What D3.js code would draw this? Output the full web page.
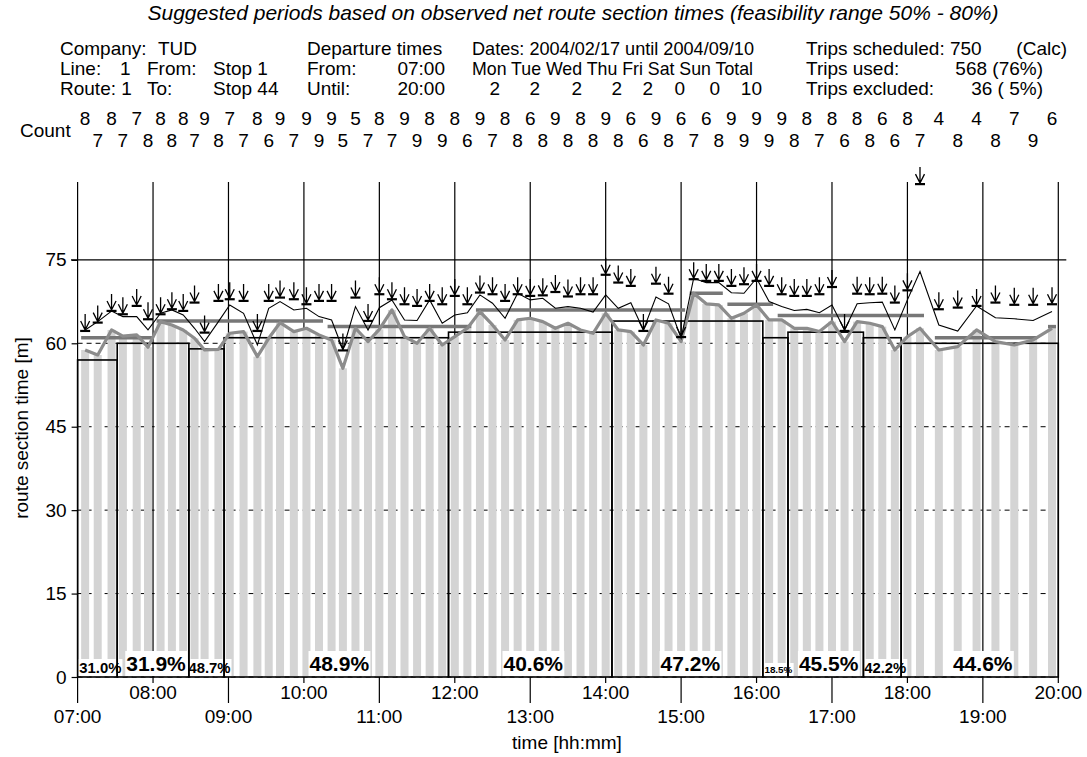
<!DOCTYPE html>
<html>
<head>
<meta charset="utf-8">
<script src="https://cdn.jsdelivr.net/npm/d3@7"></script>
<style>
  body { margin: 0; background: #fff; }
  svg { display: block; font-family: "Liberation Sans", Arial, Helvetica, sans-serif; }
</style>
</head>
<body>
<svg id="chart" width="1087" height="757"></svg>
<script>
// ---- trip departures (weekday timetable) ----
const departureTimes = [
  "07:06","07:16","07:27","07:36","07:47","07:56","08:06","08:15","08:24","08:33",
  "08:41","08:52","09:01","09:12","09:23","09:32","09:41","09:52","10:02","10:12",
  "10:22","10:31","10:41","10:51","11:00","11:10","11:20","11:30","11:40","11:50",
  "12:00","12:10","12:20","12:30","12:40","12:50","13:00","13:10","13:20","13:30",
  "13:40","13:50","14:00","14:10","14:20","14:30","14:40","14:50","15:00","15:10",
  "15:20","15:30","15:40","15:50","16:00","16:10","16:20","16:30","16:40","16:50",
  "17:00","17:10","17:20","17:30","17:40","17:50","18:00","18:10","18:25","18:40",
  "18:55","19:10","19:25","19:40","19:55"
];
// observed trips per departure
const tripCounts = [
  8,7, 8,7, 7,8, 8,8, 8,7, 9,8, 7,7, 8,6, 9,7, 9,9,
  9,5, 5,7, 8,7, 9,9, 8,9, 8,6, 9,7, 8,8, 6,8, 9,8,
  8,8, 9,8, 6,6, 9,8, 6,7, 6,8, 9,9, 9,9, 9,8, 8,7,
  8,6, 8,8, 6,6, 8,7, 4,8, 4,8, 7,9, 6
];
// 50% route section time per departure [min]
const medianTimes = [
  58.8,57.9,62.4,61.3,61.5,59.3,63.9,63.3,62.4,60.9,
  58.8,58.9,61.8,62.1,57.6,60.9,63.7,62.1,62.7,61.5,
  60.6,55.5,62.7,60.3,62.5,66.0,61.2,60.0,62.7,59.7,
  61.2,62.7,65.7,63.3,60.6,64.2,64.5,63.9,62.7,63.6,
  62.4,61.8,65.4,62.4,62.1,59.7,64.2,63.6,60.3,69.0,
  67.1,66.9,64.5,65.4,66.9,64.2,64.2,62.7,62.7,62.1,
  63.9,60.3,63.9,63.6,63.0,58.8,61.2,62.7,58.8,59.4,
  62.4,60.3,59.7,60.6,62.7
];
// 80% route section time per departure [min]
const upperTimes = [
  62.4,63.9,65.8,64.8,64.8,62.4,65.4,66.0,65.1,62.7,
  60.3,63.9,66.9,65.4,59.7,66.3,67.5,66.0,66.3,64.8,
  64.2,58.9,66.6,62.4,66.4,67.8,64.2,64.1,67.8,63.6,
  65.1,65.5,68.7,67.2,64.5,69.0,67.8,68.1,66.3,66.6,
  66.3,65.6,68.7,66.3,67.3,62.4,68.3,67.1,60.9,71.7,
  70.9,70.9,69.1,69.0,71.7,67.5,66.6,65.9,66.1,65.5,
  66.9,62.4,67.1,67.3,67.4,62.4,67.8,72.9,63.3,62.2,
  66.7,64.6,64.4,64.1,65.7
];
// highest retained observation per departure [min]
const maxTimes = [
  62.4,63.9,66.0,65.4,66.9,64.5,65.4,66.3,66.0,67.5,
  62.1,67.8,68.1,67.8,62.4,67.8,68.4,68.1,67.2,67.8,
  67.8,58.9,68.4,64.2,69.0,68.1,67.2,66.9,67.8,67.2,
  68.7,67.2,69.3,69.0,67.8,69.0,68.7,68.8,69.4,68.6,
  69.0,69.0,72.5,71.1,70.5,62.4,70.9,69.1,61.3,71.7,
  71.4,71.4,70.5,70.8,71.4,70.5,69.0,68.7,68.7,69.0,
  70.3,62.4,69.1,69.0,69.1,67.5,69.7,88.8,66.3,66.6,
  66.9,67.5,67.1,67.1,67.2
];

// suggested periods: last departure index, run time, share of trips within range
const periodLastDeparture = [2, 8, 11, 29, 42, 54, 56, 62, 65, 74];
const periodRunTimes      = [57, 60, 59, 61, 62, 64, 61, 62, 61, 60];
const periodShares        = ["31.0%","31.9%","48.7%","48.9%","40.6%","47.2%","18.5%","45.5%","42.2%","44.6%"];

// current timetable run times (first/last departure index, minutes)
const currentFirst  = [0, 6, 20, 32, 49, 52, 56, 68, 74];
const currentLast   = [5, 19, 31, 48, 51, 55, 67, 73, 74];
const currentValues = [61, 64, 63, 66, 69, 67, 65, 61, 63];

// axes
const hourLabels = ["07:00","08:00","09:00","10:00","11:00","12:00","13:00",
                    "14:00","15:00","16:00","17:00","18:00","19:00","20:00"];
const yTicks = [0, 15, 30, 45, 60, 75];

// header block
const dayNames  = "Mon Tue Wed Thu Fri Sat Sun Total";
const dayCounts = [2, 2, 2, 2, 2, 0, 0, 10];

// ------------------------------------------------------------------
const toMin = s => { const [h, m] = s.split(":").map(Number); return (h - 7) * 60 + m; };
const dep = departureTimes.map(toMin);

const svg = d3.select("#chart");
const x = d3.scaleLinear().domain([0, 780]).range([77.6, 1058.3]);
const y = d3.scaleLinear().domain([0, 89]).range([677, 182]);
const FS = 19;

// ---------- title & header ----------
svg.append("text").attr("x", 573).attr("y", 20).attr("text-anchor", "middle")
  .attr("font-size", 21).attr("font-style", "italic")
  .text("Suggested periods based on observed net route section times (feasibility range 50% - 80%)");

const hdr = svg.append("g").attr("font-size", FS).style("white-space", "pre");
const put = (tx, px, py, anchor) => hdr.append("text").attr("x", px).attr("y", py)
  .attr("text-anchor", anchor || "start").text(tx);
const r1 = 55, r2 = 75, r3 = 95;
put("Company:", 60, r1); put("TUD", 158, r1);
put("Line:", 60, r2); put("1", 120, r2); put("From:", 147, r2); put("Stop  1", 213, r2);
put("Route: 1", 60, r3); put("To:", 147, r3); put("Stop 44", 213, r3);
put("Departure times", 307, r1);
put("From:", 307, r2); put("07:00", 445, r2, "end");
put("Until:", 307, r3); put("20:00", 445, r3, "end");
put("Dates: 2004/02/17 until 2004/09/10", 472, r1)
  .attr("textLength", 282).attr("lengthAdjust", "spacingAndGlyphs");
put(dayNames, 472, r2)
  .attr("textLength", 281).attr("lengthAdjust", "spacingAndGlyphs");
const dayEnds = [500, 540, 582, 622, 653, 685, 720, 762];
dayCounts.forEach((c, i) => put(String(c), dayEnds[i], r3, "end"));
put("Trips scheduled: 750", 806, r1); put("(Calc)", 1067, r1, "end");
put("Trips used:", 806, r2); put("568 (76%)", 1043, r2, "end");
put("Trips excluded:", 806, r3); put("36 ( 5%)", 1043, r3, "end");

// ---------- count rows ----------
svg.append("text").attr("x", 20).attr("y", 137).attr("font-size", FS).text("Count");
svg.append("g").attr("font-size", FS).attr("text-anchor", "middle")
  .selectAll("text").data(tripCounts).join("text")
  .attr("x", (d, i) => x(dep[i]))
  .attr("y", (d, i) => i % 2 === 0 ? 125 : 147)
  .text(d => d);

// ---------- grid ----------
const grid = svg.append("g").attr("stroke", "#000").attr("fill", "none");
[0, 15, 30, 45, 60].forEach(v => {
  grid.append("line").attr("x1", x(0)).attr("x2", x(780)).attr("y1", y(v)).attr("y2", y(v))
    .attr("stroke-width", 1).attr("stroke-dasharray", "5,4");
});
hourLabels.forEach((h, i) => {
  const xm = x(i * 60);
  grid.append("line").attr("x1", xm).attr("x2", xm)
    .attr("y1", y(89)).attr("y2", i % 2 === 0 ? 703 : 683)
    .attr("stroke-width", 1.2);
});

// ---------- bars ----------
svg.append("g").attr("fill", "#d4d4d4")
  .selectAll("rect").data(medianTimes).join("rect")
  .attr("x", (d, i) => x(dep[i]) - 4)
  .attr("width", 8)
  .attr("y", d => y(d))
  .attr("height", d => y(0) - y(d));

// solid reference line at 75 and y ticks
svg.append("line").attr("x1", 71).attr("x2", x(780) + 8).attr("y1", y(75)).attr("y2", y(75))
  .attr("stroke", "#000").attr("stroke-width", 1.2);
const yAxis = svg.append("g").attr("transform", `translate(${x(0)},0)`)
  .call(d3.axisLeft(y).tickValues(yTicks).tickSize(6).tickPadding(5).tickFormat(d3.format("d")));
yAxis.select(".domain").remove();
yAxis.selectAll("text").attr("font-size", FS).attr("font-family", "Liberation Sans, Arial, sans-serif");
yAxis.selectAll("line").attr("stroke-width", 1.2);

// ---------- suggested periods ----------
const periods = periodLastDeparture.map((last, i) => {
  const first = i === 0 ? 0 : periodLastDeparture[i - 1] + 1;
  const t0 = i === 0 ? 0 : (dep[first - 1] + dep[first]) / 2;
  const t1 = i === periodLastDeparture.length - 1 ? 780 : (dep[last] + dep[last + 1]) / 2;
  return { t0, t1, n: last - first + 1, value: periodRunTimes[i], share: periodShares[i] };
});

const labels = svg.append("g");
periods.forEach(p => {
  const fs = Math.min(21, 4.95 * p.n);
  const g = labels.append("g");
  const t = g.append("text").attr("x", (x(p.t0) + x(p.t1)) / 2 + 3)
    .attr("y", y(0) - (fs > 16 ? 6 : 4))
    .attr("text-anchor", "middle").attr("font-weight", "bold").attr("font-size", fs)
    .text(p.share);
  const bb = t.node().getBBox();
  g.insert("rect", "text").attr("x", bb.x - 1).attr("y", bb.y - 1)
    .attr("width", bb.width + 2).attr("height", y(0) - bb.y).attr("fill", "#fff");
});

svg.append("g").attr("fill", "none").attr("stroke", "#000").attr("stroke-width", 1.6)
  .selectAll("rect").data(periods).join("rect")
  .attr("x", d => x(d.t0)).attr("width", d => x(d.t1) - x(d.t0))
  .attr("y", d => y(d.value)).attr("height", d => y(0) - y(d.value));

// ---------- current timetable levels ----------
svg.append("g").attr("stroke", "#777").attr("stroke-width", 3.5)
  .selectAll("line").data(currentValues).join("line")
  .attr("x1", (d, i) => x(dep[currentFirst[i]]) - 4)
  .attr("x2", (d, i) => x(dep[currentLast[i]]) + 4)
  .attr("y1", d => y(d)).attr("y2", d => y(d));

// ---------- median and upper lines ----------
const line = d3.line().x((d, i) => x(dep[i])).y(d => y(d));
svg.append("path").datum(medianTimes).attr("d", line)
  .attr("fill", "none").attr("stroke", "#8c8c8c").attr("stroke-width", 3.2)
  .attr("stroke-linejoin", "round");
svg.append("path").datum(upperTimes).attr("d", line)
  .attr("fill", "none").attr("stroke", "#000").attr("stroke-width", 1.1);

// ---------- arrows at highest retained observation ----------
const arrows = svg.append("g").attr("stroke", "#000").attr("fill", "none");
maxTimes.forEach((v, i) => {
  const ax = x(dep[i]), ay = y(v);
  arrows.append("path").attr("stroke-width", 1.3)
    .attr("d", `M${ax},${ay - 16}L${ax},${ay}M${ax - 4.5},${ay - 9}L${ax},${ay}L${ax + 4.5},${ay - 9}`);
  arrows.append("path").attr("stroke-width", 2.2)
    .attr("d", `M${ax - 5},${ay + 1}L${ax + 5},${ay + 1}`);
});

// ---------- x labels ----------
svg.append("g").attr("font-size", FS).attr("text-anchor", "middle")
  .selectAll("text").data(hourLabels).join("text")
  .attr("x", (d, i) => x(i * 60))
  .attr("y", (d, i) => i % 2 === 0 ? 723 : 699)
  .text(d => d);

svg.append("text").attr("x", 567).attr("y", 749).attr("text-anchor", "middle")
  .attr("font-size", FS).text("time [hh:mm]");
svg.append("text").attr("transform", "translate(28,428) rotate(-90)")
  .attr("text-anchor", "middle").attr("font-size", FS).text("route section time [m]");
</script>
</body>
</html>
